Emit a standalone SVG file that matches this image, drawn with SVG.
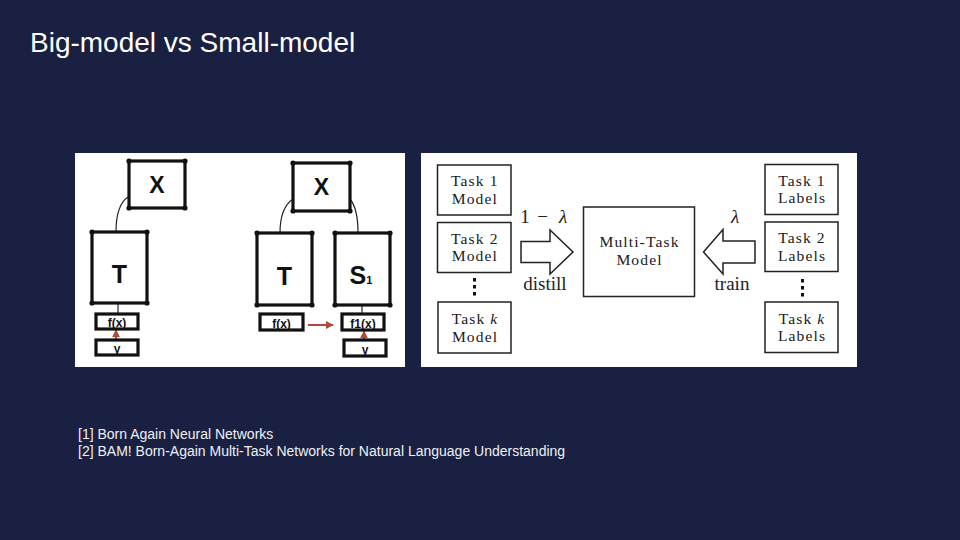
<svg xmlns="http://www.w3.org/2000/svg" width="960" height="540" viewBox="0 0 960 540">
<defs>
<style>
.bg{fill:#1a2041}
.panel{fill:#ffffff}
.hb{fill:#ffffff;stroke:#111;stroke-width:3.2}
.dot{fill:#111}
.bl{font-family:"Liberation Sans",Arial,sans-serif;font-weight:bold;fill:#111;text-anchor:middle}
.ln{fill:none;stroke:#222;stroke-width:1.2}
.red{fill:none;stroke:#b24a3b;stroke-width:2}
.tb{fill:#ffffff;stroke:#222;stroke-width:1.5}
.sr{font-family:"Liberation Serif","Times New Roman",serif;font-size:19px;fill:#222;text-anchor:middle}
.bx{font-family:"Liberation Serif","Times New Roman",serif;font-size:15.6px;letter-spacing:1.1px;fill:#1a1a1a;text-anchor:middle}
.title{font-family:"Liberation Sans",Arial,sans-serif;font-size:28px;fill:#ffffff}
.ref{font-family:"Liberation Sans",Arial,sans-serif;font-size:14px;fill:#eef0f5}
</style>
<marker id="ra" viewBox="0 0 10 10" refX="9" refY="5" markerWidth="4" markerHeight="4" orient="auto">
<path d="M0,0 L10,5 L0,10 Z" fill="#b24a3b"/>
</marker>
</defs>
<rect class="bg" x="0" y="0" width="960" height="540"/>
<text class="title" x="30" y="52">Big-model vs Small-model</text>

<rect class="panel" x="75" y="153" width="330" height="214"/>
<rect class="panel" x="421" y="153" width="436" height="214"/>

<g id="connectors">
<path class="ln" d="M128,197 C119,203 116,215 116,232"/>
<path class="ln" d="M118,303 L118,314"/>
<path class="ln" d="M293,199 C284,205 280,218 280,233"/>
<path class="ln" d="M350,199 C355,205 358,218 358,233"/>
<path class="ln" d="M362,305 L362,315"/>
<path class="red" d="M116,339 L116,330" marker-end="url(#ra)"/>
<path class="red" d="M308,325 L333,325" marker-end="url(#ra)"/>
<path class="red" d="M364,341 L364,331" marker-end="url(#ra)"/>
</g>

<g id="left-X">
<rect class="hb" x="129" y="161" width="56" height="47"/>
<circle class="dot" cx="129" cy="161" r="2.6"/><circle class="dot" cx="185" cy="161" r="2.6"/><circle class="dot" cx="129" cy="208" r="2.6"/><circle class="dot" cx="185" cy="208" r="2.6"/>
<text class="bl" x="157" y="193" font-size="23">X</text>
</g>
<g id="left-T">
<rect class="hb" x="92" y="232" width="55" height="71"/>
<circle class="dot" cx="92" cy="232" r="2.6"/><circle class="dot" cx="147" cy="232" r="2.6"/><circle class="dot" cx="92" cy="303" r="2.6"/><circle class="dot" cx="147" cy="303" r="2.6"/>
<text class="bl" x="119.5" y="283" font-size="25">T</text>
</g>
<g id="left-fx">
<rect class="hb" x="96" y="314" width="42" height="15"/>
<text class="bl" x="117" y="327" font-size="12">f(x)</text>
</g>
<g id="left-y">
<rect class="hb" x="96" y="340" width="42" height="15"/>
<text class="bl" x="117" y="353" font-size="12">y</text>
</g>

<g id="right-X">
<rect class="hb" x="293" y="163" width="57" height="48"/>
<circle class="dot" cx="293" cy="163" r="2.6"/><circle class="dot" cx="350" cy="163" r="2.6"/><circle class="dot" cx="293" cy="211" r="2.6"/><circle class="dot" cx="350" cy="211" r="2.6"/>
<text class="bl" x="321.5" y="195" font-size="23">X</text>
</g>
<g id="right-T">
<rect class="hb" x="257" y="233" width="55" height="72"/>
<circle class="dot" cx="257" cy="233" r="2.6"/><circle class="dot" cx="312" cy="233" r="2.6"/><circle class="dot" cx="257" cy="305" r="2.6"/><circle class="dot" cx="312" cy="305" r="2.6"/>
<text class="bl" x="284.5" y="285" font-size="25">T</text>
</g>
<g id="right-S1">
<rect class="hb" x="335" y="233" width="55" height="72"/>
<circle class="dot" cx="335" cy="233" r="2.6"/><circle class="dot" cx="390" cy="233" r="2.6"/><circle class="dot" cx="335" cy="305" r="2.6"/><circle class="dot" cx="390" cy="305" r="2.6"/>
<text class="bl" x="361" y="284" font-size="25">S<tspan font-size="11">1</tspan></text>
</g>
<g id="right-fx">
<rect class="hb" x="260" y="314" width="43" height="16"/>
<text class="bl" x="281.5" y="328" font-size="12">f(x)</text>
</g>
<g id="right-f1x">
<rect class="hb" x="342" y="314" width="42" height="16"/>
<text class="bl" x="363" y="328" font-size="12">f1(x)</text>
</g>
<g id="right-y">
<rect class="hb" x="344" y="340" width="42" height="16"/>
<text class="bl" x="365" y="354" font-size="12">y</text>
</g>

<g id="task1-model">
<rect class="tb" x="437.5" y="165" width="73.5" height="50"/>
<text class="bx" x="474.8" y="186">Task 1</text>
<text class="bx" x="474.8" y="203.5">Model</text>
</g>
<g id="task2-model">
<rect class="tb" x="437.5" y="222.5" width="73.5" height="50"/>
<text class="bx" x="474.8" y="243.5">Task 2</text>
<text class="bx" x="474.8" y="261">Model</text>
</g>
<g id="dots-left">
<rect class="dot" x="473" y="278" width="3" height="3.5"/>
<rect class="dot" x="473" y="285" width="3" height="3.5"/>
<rect class="dot" x="473" y="292" width="3" height="3.5"/>
</g>
<g id="taskk-model">
<rect class="tb" x="438" y="302" width="73" height="51"/>
<text class="bx" x="475" y="324">Task <tspan font-style="italic">k</tspan></text>
<text class="bx" x="475" y="341.5">Model</text>
</g>

<g id="distill-arrow">
<polygon class="tb" points="521,241.5 550,241.5 550,230 573,252 550,274 550,262.5 521,262.5"/>
<text class="sr" font-size="20" x="525" y="223">1</text>
<text class="sr" font-size="20" x="542.5" y="223">−</text>
<text class="sr" font-size="21" x="563" y="223" font-style="italic">λ</text>
<text class="sr" x="545" y="290">distill</text>
</g>

<g id="multi-task-model">
<rect class="tb" x="583.5" y="207" width="111" height="89.5"/>
<text class="bx" x="639.5" y="247">Multi-Task</text>
<text class="bx" x="639.5" y="264.5">Model</text>
</g>

<g id="train-arrow">
<polygon class="tb" points="755,241 723,241 723,229.5 703.5,252 723,274 723,263 755,263"/>
<text class="sr" font-size="21" x="735" y="223" font-style="italic">λ</text>
<text class="sr" x="732" y="290">train</text>
</g>

<g id="task1-labels">
<rect class="tb" x="765" y="164.5" width="73" height="50"/>
<text class="bx" x="802" y="185.5">Task 1</text>
<text class="bx" x="802" y="203">Labels</text>
</g>
<g id="task2-labels">
<rect class="tb" x="765" y="222" width="73" height="49.5"/>
<text class="bx" x="802" y="243">Task 2</text>
<text class="bx" x="802" y="260.5">Labels</text>
</g>
<g id="dots-right">
<rect class="dot" x="801" y="279" width="3" height="3.5"/>
<rect class="dot" x="801" y="286" width="3" height="3.5"/>
<rect class="dot" x="801" y="293" width="3" height="3.5"/>
</g>
<g id="taskk-labels">
<rect class="tb" x="765" y="302" width="73" height="50.5"/>
<text class="bx" x="802" y="323.5">Task <tspan font-style="italic">k</tspan></text>
<text class="bx" x="802" y="341">Labels</text>
</g>

<text class="ref" x="78" y="439">[1] Born Again Neural Networks</text>
<text class="ref" x="78" y="456">[2] BAM! Born-Again Multi-Task Networks for Natural Language Understanding</text>
</svg>
